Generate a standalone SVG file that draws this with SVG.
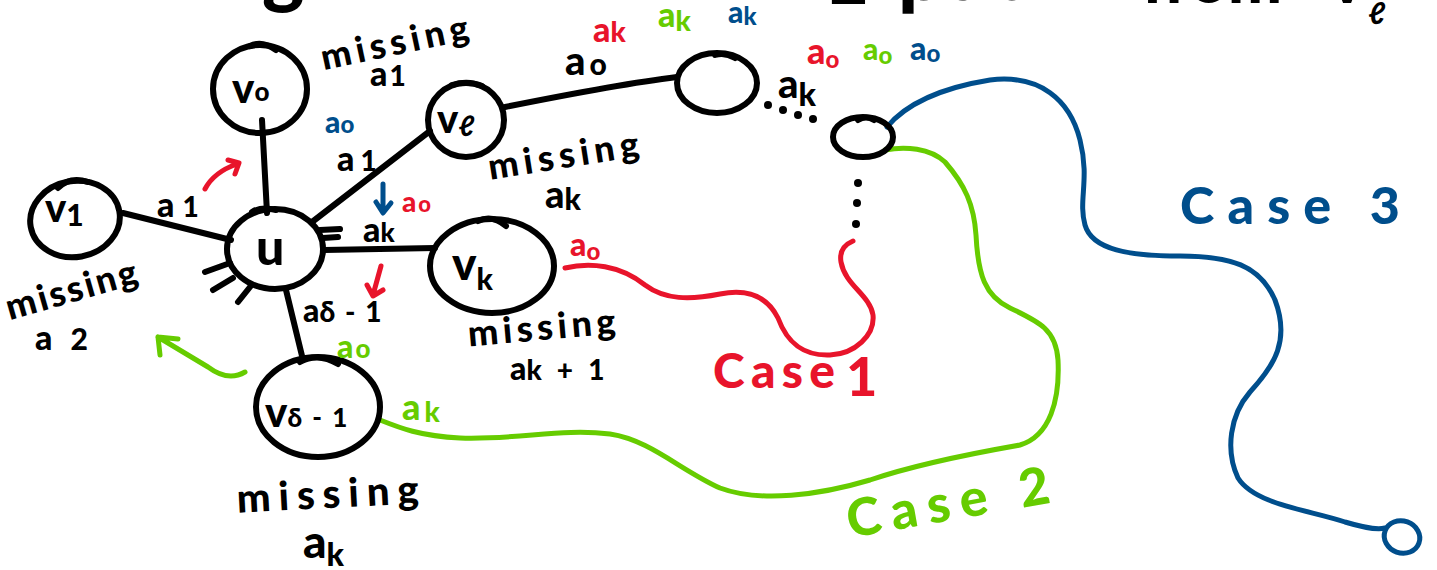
<svg xmlns="http://www.w3.org/2000/svg" width="1437" height="570" viewBox="0 0 1437 570">
  <style>
    .node { fill: none; stroke: #000; stroke-width: 6; stroke-linecap: round; stroke-linejoin: round; }
    .edge { fill: none; stroke: #000; stroke-width: 6; stroke-linecap: round; }
    .dot { fill: #000; }
    .red { fill: none; stroke: #E8142B; stroke-width: 5; stroke-linecap: round; stroke-linejoin: round; }
    .green { fill: none; stroke: #66CC00; stroke-width: 5; stroke-linecap: round; stroke-linejoin: round; }
    .blue { fill: none; stroke: #004E8C; stroke-width: 5; stroke-linecap: round; stroke-linejoin: round; }
    text { font-family: Lato, "DejaVu Sans", sans-serif; font-weight: 900; }
    .k { fill: #000; }
    .tr { fill: #E8142B; }
    .tg { fill: #66CC00; }
    .tb { fill: #004E8C; }
  </style>

  <!-- heading, running off the top edge -->
  <g id="heading" class="k">
    <text x="262" y="-2" font-size="80">g</text>
    <text x="826" y="4" font-size="64">∃</text>
    <text x="898" y="0" font-size="80" textLength="175" lengthAdjust="spacing">path</text>
    <text x="1142" y="3" font-size="64" textLength="140" lengthAdjust="spacing">from</text>
    <text x="1330" y="3" font-size="64">v</text>
    <text x="1368" y="24" font-size="30">ℓ</text>
  </g>

  <!-- edges and paths -->
  <g id="connectors">
    <line class="edge" x1="262" y1="120" x2="267" y2="213"/>
    <line class="edge" x1="123" y1="213" x2="231" y2="240"/>
    <line class="edge" x1="312" y1="222" x2="430" y2="131"/>
    <line class="edge" x1="324" y1="250" x2="435" y2="248"/>
    <line class="edge" x1="286" y1="290" x2="303" y2="360"/>
    <path class="edge" d="M505,107 C560,96 620,84 677,77"/>
    <!-- dotted continuations -->
    <circle class="dot" cx="768" cy="105" r="4"/>
    <circle class="dot" cx="783" cy="110" r="4"/>
    <circle class="dot" cx="798" cy="115" r="4"/>
    <circle class="dot" cx="813" cy="119" r="4"/>
    <circle class="dot" cx="858" cy="183" r="4"/>
    <circle class="dot" cx="857" cy="203" r="4"/>
    <circle class="dot" cx="856" cy="224" r="4"/>
    <!-- case paths -->
    <path class="red" d="M565,268 C590,262 620,265 645,285 C665,300 690,300 720,294 C750,288 768,298 778,318 C788,345 805,356 830,355 C855,354 875,335 873,315 C870,295 845,285 841,262 C839,250 846,244 853,241"/>
    <path class="green" d="M380,420 C400,428 420,436 460,438 C520,440 560,428 610,434 C650,440 680,470 720,488 C760,503 820,495 870,480 C920,463 980,452 1020,445 C1050,436 1060,400 1058,360 C1056,330 1040,322 1010,308 C985,296 978,275 976,235 C974,205 965,185 945,162 C930,148 905,146 885,150"/>
    <path class="blue" d="M887,127 C905,105 940,88 990,80 C1040,74 1070,100 1080,140 C1090,180 1078,200 1085,225 C1092,250 1130,256 1180,256 C1230,256 1260,265 1275,300 C1290,340 1275,365 1250,392 C1230,415 1225,450 1238,478 C1255,505 1310,510 1345,522 C1365,528 1378,530 1385,528"/>
    <!-- small arrows -->
    <path class="red" d="M205,189 Q214,172 237,164 M228,160 L239,163 L235,174"/>
    <path class="blue" d="M383,184 L383,212 M376,202 L383,213 L391,203"/>
    <path class="red" d="M381,266 L373,295 M367,285 L373,296 L383,290"/>
    <path class="green" d="M245,372 Q228,382 208,367 L158,337 M158,337 L178,339 M158,337 L160,355"/>
  </g>

  <!-- nodes -->
  <g id="v0">
    <ellipse class="node" cx="260" cy="89" rx="47" ry="44"/>
    <path class="node" d="M250,46 Q262,40 276,50"/>
    <text class="k" x="232" y="103" font-size="42">v<tspan font-size="26" dy="-2">o</tspan></text>
  </g>
  <g id="v1">
    <ellipse class="node" cx="75" cy="219" rx="45" ry="38" transform="rotate(-10 75 219)"/>
    <path class="node" d="M58,188 Q70,176 88,182"/>
    <text class="k" x="45" y="222" font-size="40">v<tspan font-size="30" dy="4">1</tspan></text>
  </g>
  <g id="u">
    <ellipse class="node" cx="275" cy="249" rx="48" ry="40"/>
    <path class="node" d="M252,212 Q262,206 276,210 M320,230 L340,229 M323,238 L338,237 M205,272 L230,263 M213,290 L233,278 M238,302 L250,287"/>
    <text class="k" x="256" y="265" font-size="50">u</text>
  </g>
  <g id="vl">
    <ellipse class="node" cx="466" cy="120" rx="38" ry="37"/>
    <path class="node" d="M452,85 Q468,80 482,86"/>
    <text class="k" x="437" y="133" font-size="40">v<tspan font-size="28" dy="3">ℓ</tspan></text>
  </g>
  <g id="vk">
    <ellipse class="node" cx="492" cy="266" rx="62" ry="47"/>
    <path class="node" d="M478,221 Q492,214 506,226"/>
    <text class="k" x="452" y="280" font-size="46">v<tspan font-size="30" dy="10">k</tspan></text>
  </g>
  <g id="vdm1">
    <ellipse class="node" cx="318" cy="407" rx="62" ry="50"/>
    <path class="node" d="M300,362 Q318,352 338,364"/>
    <text class="k" x="265" y="427" font-size="42">v<tspan font-size="26" textLength="60" lengthAdjust="spacing">δ-1</tspan></text>
  </g>
  <g id="w1">
    <ellipse class="node" cx="717" cy="83" rx="40" ry="30"/>
    <path class="node" d="M715,55 Q725,52 735,58"/>
  </g>
  <g id="w2">
    <ellipse class="node" cx="863" cy="137" rx="30" ry="20"/>
    <path class="node" d="M858,120 Q866,115 874,120"/>
  </g>
  <g id="w3">
    <ellipse class="blue" cx="1402" cy="537" rx="18" ry="16" transform="rotate(20 1402 537)"/>
  </g>

  <!-- black labels -->
  <g id="labels" class="k">
    <text x="395" y="55" font-size="36" text-anchor="middle" textLength="150" lengthAdjust="spacing" transform="rotate(-12 395 45)">missing</text>
    <text x="370" y="86" font-size="34">a<tspan font-size="28" dx="2">1</tspan></text>
    <text x="157" y="217" font-size="34">a<tspan dx="8" font-size="28">1</tspan></text>
    <text x="72" y="302" font-size="36" text-anchor="middle" textLength="135" lengthAdjust="spacing" transform="rotate(-16 72 292)">missing</text>
    <text x="35" y="350" font-size="34">a<tspan dx="18" font-size="30">2</tspan></text>
    <text x="337" y="171" font-size="34">a<tspan dx="6" font-size="28">1</tspan></text>
    <text x="564" y="168" font-size="36" text-anchor="middle" textLength="152" lengthAdjust="spacing" transform="rotate(-9 564 160)">missing</text>
    <text x="545" y="208" font-size="38">a<tspan font-size="30" dy="2">k</tspan></text>
    <text x="565" y="75" font-size="40">a<tspan font-size="30" dx="4">o</tspan></text>
    <text x="778" y="98" font-size="40">a<tspan font-size="32" dy="8">k</tspan></text>
    <text x="363" y="242" font-size="34">a<tspan font-size="26">k</tspan></text>
    <text x="303" y="322" font-size="32">a<tspan font-size="28" textLength="62" lengthAdjust="spacing">δ-1</tspan></text>
    <text x="542" y="340" font-size="36" text-anchor="middle" textLength="148" lengthAdjust="spacing" transform="rotate(-5 542 332)">missing</text>
    <text x="510" y="380" font-size="32">a<tspan font-size="28" textLength="78" lengthAdjust="spacing">k+1</tspan></text>
    <text x="328" y="508" font-size="40" text-anchor="middle" textLength="182" lengthAdjust="spacing" transform="rotate(-3 328 500)">missing</text>
    <text x="303" y="558" font-size="46">a<tspan font-size="32" dy="8">k</tspan></text>
  </g>

  <!-- coloured labels -->
  <g id="colour-labels">
    <text class="tb" x="325" y="133" font-size="30">a<tspan font-size="24">o</tspan></text>
    <text class="tr" x="402" y="212" font-size="28">a<tspan font-size="22" dx="2">o</tspan></text>
    <text class="tg" x="337" y="358" font-size="32">a<tspan font-size="26" dx="2">o</tspan></text>
    <text class="tr" x="570" y="256" font-size="32">a<tspan font-size="24" dy="4">o</tspan></text>
    <text class="tg" x="402" y="420" font-size="36">a<tspan font-size="28" dx="4" dy="2">k</tspan></text>
    <text class="tr" x="593" y="42" font-size="34">a<tspan font-size="28">k</tspan></text>
    <text class="tg" x="658" y="27" font-size="34">a<tspan font-size="28" dy="4">k</tspan></text>
    <text class="tb" x="728" y="23" font-size="30">a<tspan font-size="24" dy="2">k</tspan></text>
    <text class="tr" x="807" y="64" font-size="36">a<tspan font-size="24" dy="4">o</tspan></text>
    <text class="tg" x="863" y="60" font-size="30">a<tspan font-size="24" dy="4">o</tspan></text>
    <text class="tb" x="910" y="60" font-size="32">a<tspan font-size="24" dy="2">o</tspan></text>
    <text class="tr" x="713" y="388" font-size="48" textLength="122" lengthAdjust="spacing">Case</text>
    <text class="tr" x="846" y="396" font-size="54">1</text>
    <text class="tg" x="850" y="538" font-size="52" textLength="205" lengthAdjust="spacing" transform="rotate(-10 850 538)">Case 2</text>
    <text class="tb" x="1180" y="224" font-size="52" textLength="220" lengthAdjust="spacing">Case 3</text>
  </g>
</svg>
